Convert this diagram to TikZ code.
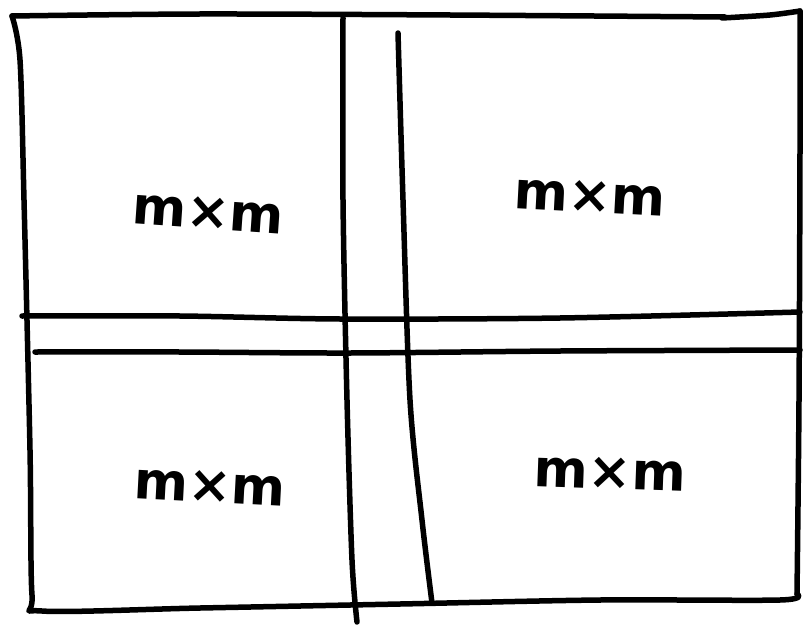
\documentclass[tikz,border=0pt]{standalone}
\usepackage{fontspec}
\setmainfont{DejaVu Sans}
\begin{document}
\begin{tikzpicture}[x=1pt,y=-1pt,
  ink/.style={line width=5.5pt,line cap=round,line join=round,black},
  lbl/.style={font=\bfseries\fontsize{52}{52}\selectfont, inner sep=0pt}]
\useasboundingbox[fill=white] (0,0) rectangle (803,626);
% outer frame
\draw[ink] plot[smooth] coordinates {(12,16) (200,14) (450,15) (725,17)};
\draw[ink] plot[smooth] coordinates {(722,18) (770,15) (800,11)};
\draw[ink] plot[smooth] coordinates {(12,16) (20,60) (24,200) (30,450) (32,595) (42,611) (200,608) (400,604) (600,600) (780,600) (797,594)};
\draw[ink] plot[smooth] coordinates {(800,11) (800,150) (799,400) (797,594)};
% vertical dividers
\draw[ink] plot[smooth] coordinates {(343,18) (343,200) (347,400) (352,560) (357,622)};
\draw[ink] plot[smooth] coordinates {(398,33) (403,200) (410,400) (422,520) (432,603)};
% horizontal dividers
\draw[ink] plot[smooth] coordinates {(22,316) (180,316) (340,319) (560,318) (800,312)};
\draw[ink] plot[smooth] coordinates {(35,352) (180,352) (350,353) (560,351) (800,350)};
% labels
\node[lbl,rotate=-4] (tl) at (208,213) {m×m};
\node[lbl,rotate=-3] (tr) at (590,197) {m×m};
\node[lbl,rotate=-3] (bl) at (210,487) {m×m};
\node[lbl,rotate=-2] (br) at (610,473) {m×m};
\end{tikzpicture}
\end{document}
